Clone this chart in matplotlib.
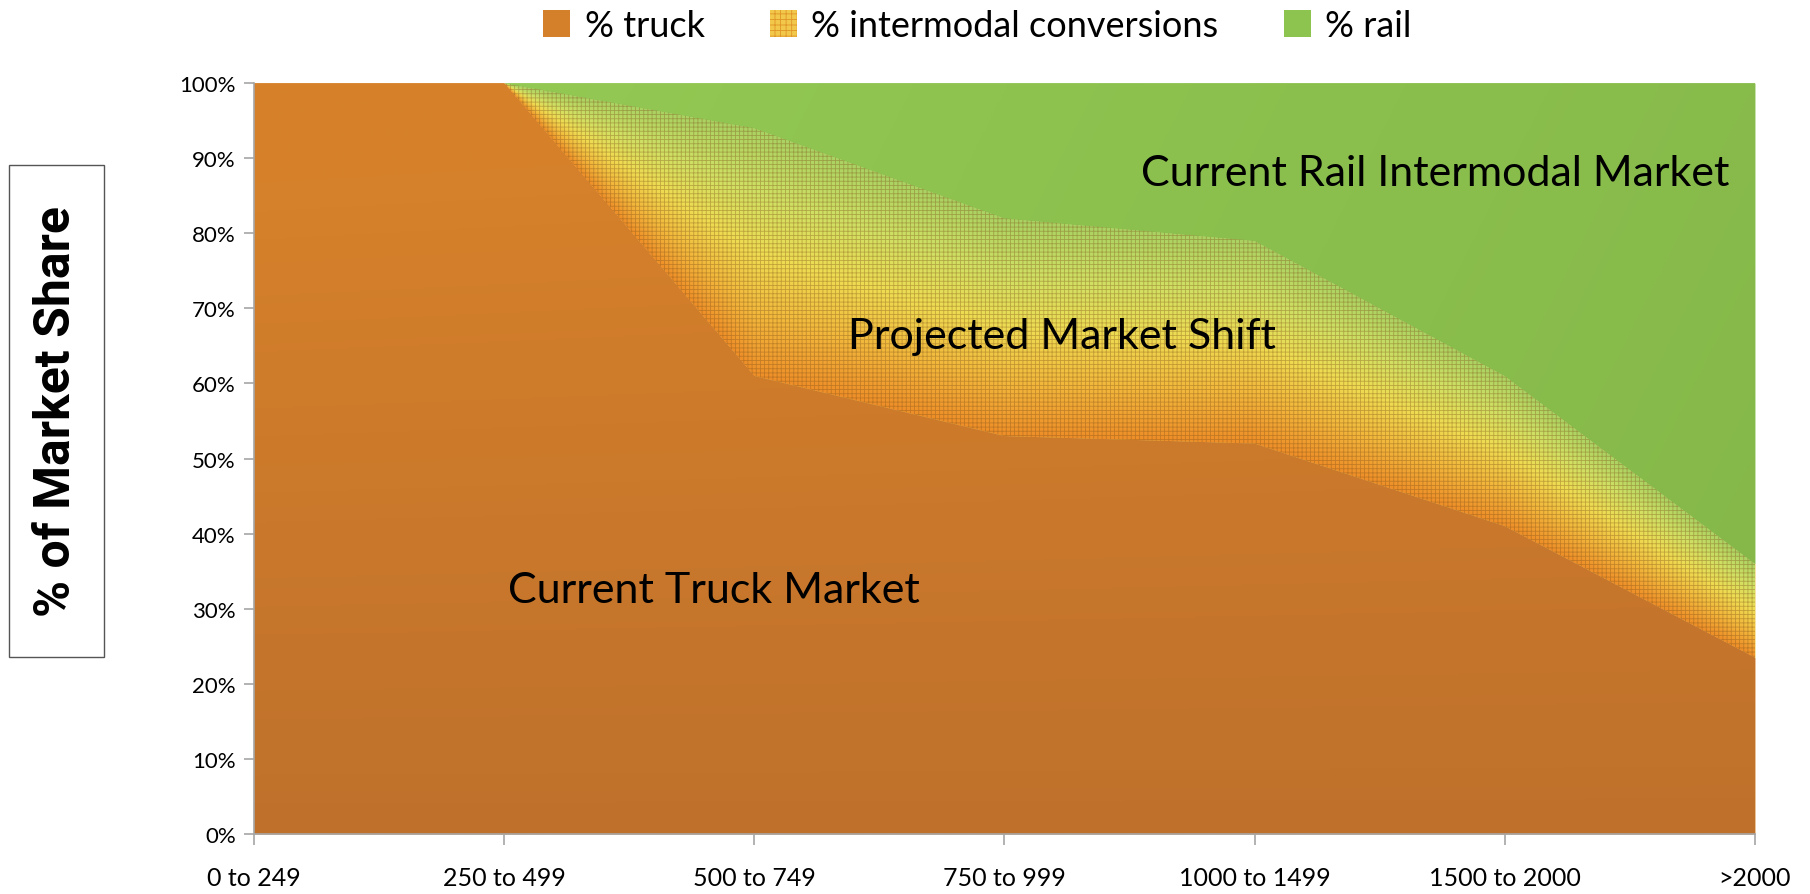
"""Market share by length of haul: truck, rail intermodal and projected shift."""
import matplotlib.pyplot as plt
import numpy as np
from matplotlib.colors import LinearSegmentedColormap
from matplotlib.patches import Patch, Rectangle

CATEGORIES = ["0 to 249", "250 to 499", "500 to 749", "750 to 999",
              "1000 to 1499", "1500 to 2000", ">2000"]
TRUCK = [100, 100, 61, 53, 52, 41, 23.5]
CONVERSIONS = [0, 0, 33, 29, 27, 20, 12.5]
RAIL = [0, 0, 6, 18, 21, 39, 64]

TRUCK_C = "#D47F2A"
RAIL_C = "#8DC450"
shift_cmap = LinearSegmentedColormap.from_list(
    "shift", ["#EE8E28", "#F2B83C", "#EEDC52", "#CFE064", "#AAD262"])

fig = plt.figure(figsize=(18.1, 8.95), dpi=100)
ax = fig.add_axes([0.1403, 0.067, 0.8293, 0.839])

x = np.arange(len(CATEGORIES))
truck = np.array(TRUCK, dtype=float)
top = truck + np.array(CONVERSIONS, dtype=float)

truck_poly = ax.fill_between(x, 0, truck, color=TRUCK_C, lw=0, zorder=1)
shift_poly = ax.fill_between(x, truck, top, color="#EFC94A", lw=0, zorder=1)
rail_poly = ax.fill_between(x, top, top + np.array(RAIL), color=RAIL_C, lw=0, zorder=1)

# shading inside each band
gx = np.linspace(0, len(CATEGORIES) - 1, 700)
gy = np.linspace(0, 100, 500)
GX, GY = np.meshgrid(gx, gy)
lo = np.interp(GX, x, truck)
hi = np.interp(GX, x, top)
span = np.where(hi - lo > 1e-6, hi - lo, 1.0)
t = np.clip((GY - lo) / span, 0, 1)
ext = [0, len(CATEGORIES) - 1, 0, 100]

im = ax.imshow(t, extent=ext, origin="lower", aspect="auto", cmap=shift_cmap,
               interpolation="bilinear", zorder=2)
im.set_clip_path(shift_poly.get_paths()[0], transform=ax.transData)

truck_shade = LinearSegmentedColormap.from_list("ts", ["#BF712C", "#D6812A"])
im2 = ax.imshow(GY / 100 + 0.15 * (1 - GX / gx.max()) * (GY / 100), extent=ext,
                origin="lower", aspect="auto", cmap=truck_shade, vmin=0, vmax=1,
                zorder=2)
im2.set_clip_path(truck_poly.get_paths()[0], transform=ax.transData)

rail_shade = LinearSegmentedColormap.from_list("rs", ["#95CB55", "#84B748"])
im3 = ax.imshow(GX / gx.max() * 0.8 + (1 - GY / 100) * 0.2, extent=ext,
                origin="lower", aspect="auto", cmap=rail_shade, vmin=0, vmax=1,
                zorder=2)
im3.set_clip_path(rail_poly.get_paths()[0], transform=ax.transData)

plt.rcParams["hatch.linewidth"] = 0.6
ax.fill_between(x, truck, top, facecolor="none", hatch="++++",
                edgecolor=(0.5, 0.32, 0.1, 0.4), lw=0, zorder=3)

ax.set_xlim(0, len(CATEGORIES) - 1)
ax.set_ylim(0, 100)
ax.set_xticks(x, CATEGORIES)
ax.set_yticks(np.arange(0, 101, 10), [f"{v}%" for v in range(0, 101, 10)])
for s in ("top", "right"):
    ax.spines[s].set_visible(False)
for s in ("left", "bottom"):
    ax.spines[s].set_color("#A6A6A6")
    ax.spines[s].set_linewidth(1.2)
ax.tick_params(axis="y", colors="#A6A6A6", labelcolor="black", length=7,
               width=1.2, pad=6, labelsize=16)
ax.tick_params(axis="x", colors="#A6A6A6", labelcolor="black", length=8,
               width=1.2, pad=15, labelsize=18)
for lab in ax.get_xticklabels() + ax.get_yticklabels():
    lab.set_family(["Lato", "DejaVu Sans"])

txt = dict(family=["Lato", "DejaVu Sans"], fontsize=31, color="black",
           ha="center", va="center", zorder=5)
ax.text(4.72, 88, "Current Rail Intermodal Market", **txt)
ax.text(3.23, 66.3, "Projected Market Shift", **txt)
ax.text(1.84, 32.5, "Current Truck Market", **txt)

# boxed axis title on the far left
fig.patches.append(Rectangle((0.005, 0.265), 0.0525, 0.55, transform=fig.transFigure,
                             fill=False, edgecolor="#555555", lw=1.0))
fig.text(0.031, 0.54, "% of Market Share", rotation=90, ha="center", va="center",
         fontsize=36, fontweight="bold", family=["Roboto", "DejaVu Sans"])

handles = [
    Patch(facecolor=TRUCK_C, edgecolor="none"),
    Patch(facecolor="#F2C84A", edgecolor=(0.85, 0.5, 0.1, 0.7), hatch="+++", lw=0),
    Patch(facecolor=RAIL_C, edgecolor="none"),
]
fig.legend(handles, ["% truck", "% intermodal conversions", "% rail"],
           loc="upper center", bbox_to_anchor=(0.54, 1.025), ncol=3, frameon=False,
           prop={"family": ["Lato", "DejaVu Sans"], "size": 26},
           handlelength=0.75, handleheight=0.75, handletextpad=0.4, columnspacing=1.8)

fig.savefig("out.png", dpi=100)
